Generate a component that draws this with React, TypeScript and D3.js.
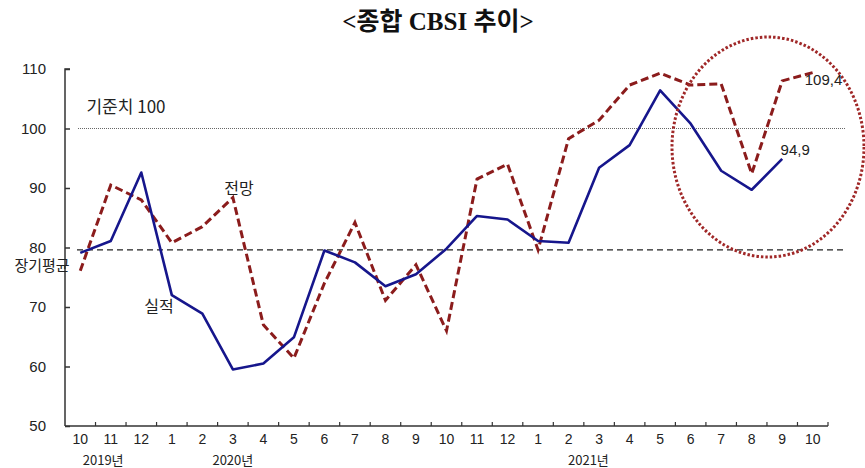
import React, { useEffect, useRef } from 'react';
import * as d3 from 'd3';

// months from 2019.10 to 2021.10
const months = ['10', '11', '12', '1', '2', '3', '4', '5', '6', '7', '8', '9', '10', '11', '12', '1', '2', '3', '4', '5', '6', '7', '8', '9', '10'];
const actual = [79.1, 81.1, 92.6, 72.0, 68.9, 59.5, 60.5, 64.9, 79.5, 77.5, 73.5, 75.5, 79.8, 85.3, 84.7, 81.1, 80.8, 93.4, 97.2, 106.4, 100.8, 92.9, 89.7, 94.9];
const forecast = [76.1, 90.5, 88.0, 80.8, 83.5, 88.4, 67.0, 61.4, 74.0, 84.2, 71.1, 77.1, 66.0, 91.5, 94.0, 79.6, 98.3, 101.4, 107.3, 109.3, 107.3, 107.5, 92.4, 108.0, 109.4];
const yTicks = [50, 60, 70, 80, 90, 100, 110];
const yearLabels = ['2019년', '2020년', '2021년'];
const yearAt = [0.75, 5, 16.65]; // position in month index
const baseline = 100;
const longTermAvg = 79.6;

const W = 865;
const H = 468;

const App = () => {
  const ref = useRef<SVGSVGElement | null>(null);

  useEffect(() => {
    if (!ref.current) return;
    const svg = d3.select(ref.current);
    svg.selectAll('*').remove();

    const left = 65;
    const right = 828;
    const top = 69;
    const bottom = 426;
    const font = '"Liberation Sans", "Noto Sans CJK KR", sans-serif';
    const kfont = '"Noto Sans CJK KR", sans-serif';

    const idx = months.map((_, i) => String(i));
    const x = d3.scaleBand().domain(idx).range([left, right]);
    const cx = (i: number) => (x(String(i)) as number) + x.bandwidth() / 2;
    const y = d3.scaleLinear().domain([50, 110]).range([bottom, top]);

    svg
      .append('text')
      .attr('x', 438)
      .attr('y', 30)
      .attr('text-anchor', 'middle')
      .attr('font-family', '"Liberation Serif", "Noto Sans CJK KR", serif')
      .attr('font-size', 25)
      .attr('font-weight', 600)
      .attr('fill', '#111')
      .text('<종합 CBSI 추이>');

    // axes
    const yAxis = svg
      .append('g')
      .attr('transform', `translate(${left},0)`)
      .call(d3.axisRight(y).tickValues(yTicks).tickSize(5).tickFormat(() => ''));
    yAxis.selectAll('path,line').attr('stroke', '#333').attr('stroke-width', 1.5);
    yAxis.select('.domain').attr('d', `M5,${top}H0V${bottom}`);

    yTicks.forEach((t) => {
      svg
        .append('text')
        .attr('x', 46)
        .attr('y', y(t) + 5)
        .attr('text-anchor', 'end')
        .attr('font-family', font)
        .attr('font-size', 15)
        .attr('fill', '#222')
        .text(t);
    });

    const xAxis = svg.append('g').attr('transform', `translate(0,${bottom})`);
    xAxis.append('line').attr('x1', left).attr('x2', right).attr('stroke', '#333').attr('stroke-width', 1.5);
    d3.range(1, months.length + 1).forEach((i) => {
      const tx = i === months.length ? right : (x(String(i)) as number);
      xAxis.append('line').attr('x1', tx).attr('x2', tx).attr('y1', 0).attr('y2', -4).attr('stroke', '#333').attr('stroke-width', 1.2);
    });
    months.forEach((m, i) => {
      svg
        .append('text')
        .attr('x', cx(i))
        .attr('y', 444)
        .attr('text-anchor', 'middle')
        .attr('font-family', font)
        .attr('font-size', 14)
        .attr('fill', '#222')
        .text(m);
    });
    yearLabels.forEach((l, i) => {
      svg
        .append('text')
        .attr('x', left + x.bandwidth() * (yearAt[i] + 0.5))
        .attr('y', 465)
        .attr('text-anchor', 'middle')
        .attr('font-family', kfont)
        .attr('font-size', 13)
        .attr('fill', '#222')
        .text(l);
    });

    // reference lines
    svg
      .append('line')
      .attr('x1', 78)
      .attr('x2', 846)
      .attr('y1', y(baseline))
      .attr('y2', y(baseline))
      .attr('stroke', '#666')
      .attr('stroke-width', 1)
      .attr('stroke-dasharray', '1,1');
    svg
      .append('line')
      .attr('x1', 77)
      .attr('x2', 843)
      .attr('y1', y(longTermAvg))
      .attr('y2', y(longTermAvg))
      .attr('stroke', '#222')
      .attr('stroke-width', 1.2)
      .attr('stroke-dasharray', '6,4');

    const line = d3
      .line<number>()
      .x((_, i) => cx(i))
      .y((d) => y(d));

    svg
      .append('path')
      .attr('d', line(forecast))
      .attr('fill', 'none')
      .attr('stroke', '#8b1c1c')
      .attr('stroke-width', 3)
      .attr('stroke-dasharray', '8,4');

    svg
      .append('path')
      .attr('d', line(actual))
      .attr('fill', 'none')
      .attr('stroke', '#16168c')
      .attr('stroke-width', 2.6)
      .attr('stroke-linejoin', 'round');

    // highlight circle
    svg
      .append('ellipse')
      .attr('cx', 768)
      .attr('cy', 147)
      .attr('rx', 96)
      .attr('ry', 110)
      .attr('fill', 'none')
      .attr('stroke', '#a02828')
      .attr('stroke-width', 3)
      .attr('stroke-dasharray', '2.5,2');

    const labels = [
      { t: '기준치 100', x: 126, y: 113, s: 17 },
      { t: '전망', x: 239, y: 194, s: 16 },
      { t: '장기평균', x: 42, y: 271, s: 15 },
      { t: '실적', x: 159, y: 312, s: 16 },
    ];
    labels.forEach((l) => {
      svg
        .append('text')
        .attr('x', l.x)
        .attr('y', l.y)
        .attr('text-anchor', 'middle')
        .attr('font-family', kfont)
        .attr('font-size', l.s)
        .attr('fill', '#222')
        .text(l.t);
    });

    svg
      .append('text')
      .attr('x', cx(forecast.length - 1) - 8)
      .attr('y', y(forecast[forecast.length - 1]) + 12)
      .attr('font-family', font)
      .attr('font-size', 15)
      .attr('fill', '#222')
      .text(String(forecast[forecast.length - 1]).replace('.', ','));
    svg
      .append('text')
      .attr('x', cx(actual.length - 1) + 13)
      .attr('y', y(actual[actual.length - 1]) - 4)
      .attr('text-anchor', 'middle')
      .attr('font-family', font)
      .attr('font-size', 15)
      .attr('fill', '#222')
      .text(String(actual[actual.length - 1]).replace('.', ','));
  }, []);

  return <svg ref={ref} width={W} height={H} style={{ position: 'absolute', left: 0, top: 0, background: '#fff' }} />;
};

export default App;
